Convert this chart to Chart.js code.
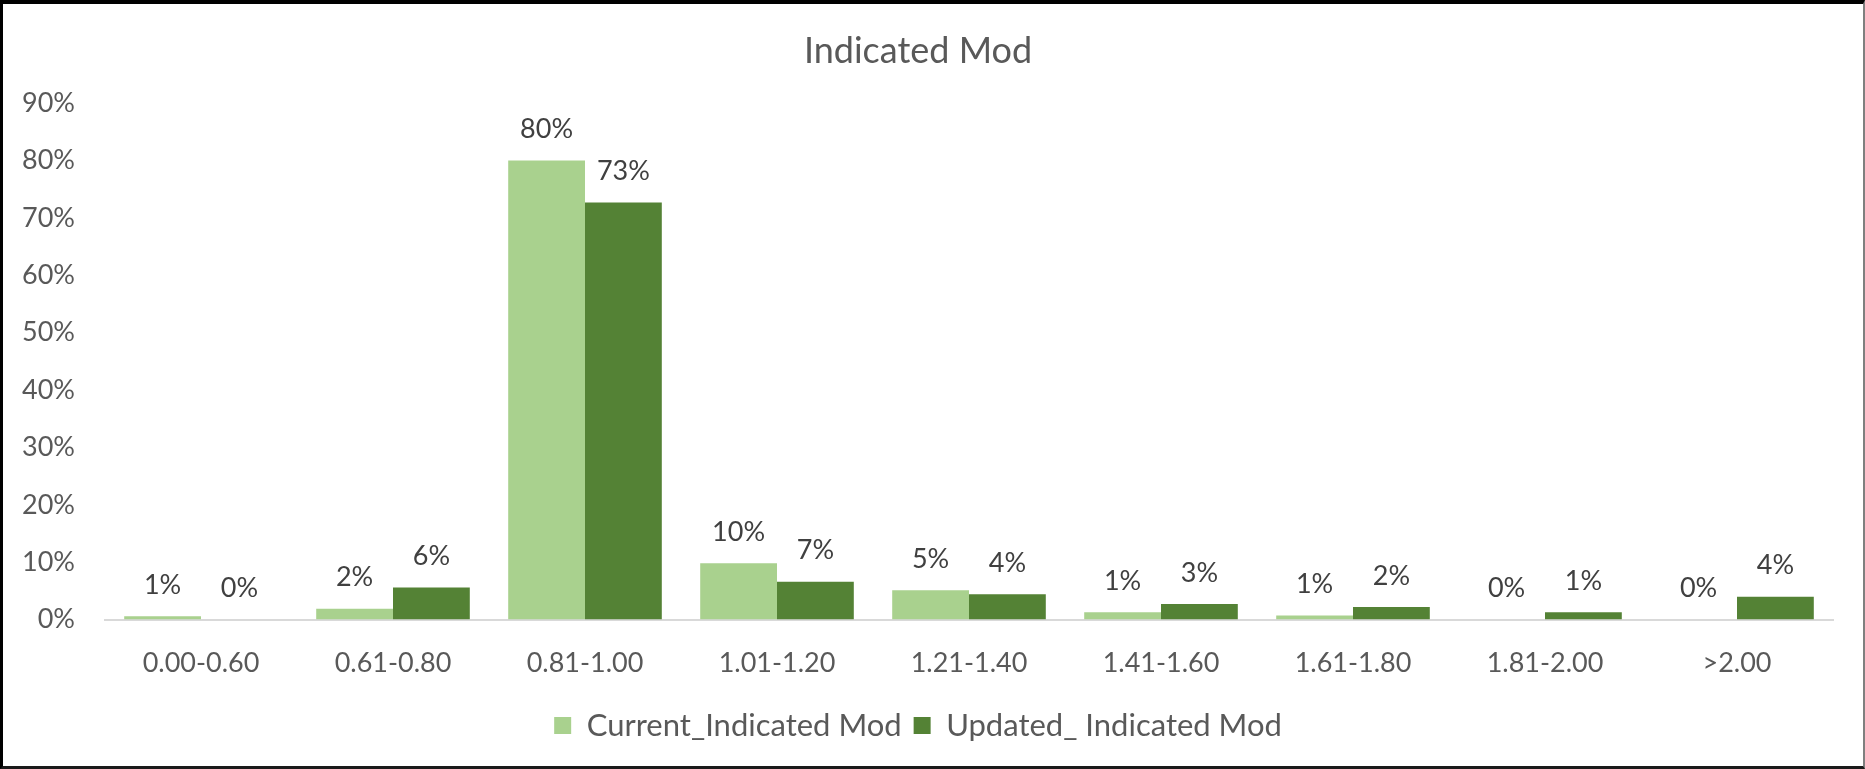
<!DOCTYPE html>
<html>
<head>
<meta charset="utf-8">
<title>Indicated Mod</title>
<script src="https://cdn.jsdelivr.net/npm/chart.js@4.4.1/dist/chart.umd.min.js"></script>
<style>
    html, body { margin: 0; padding: 0; background: #ffffff; }
    .frame {
        box-sizing: border-box;
        width: 1865px;
        height: 769px;
        border-top: 4px solid #000000;
        border-left: 3px solid #000000;
        border-bottom: 3px solid #1a1a1a;
        border-right: 2px solid #7f7f7f;
        background: #ffffff;
    }
    canvas { display: block; }
</style>
</head>
<body>
<div class="frame">
    <canvas id="mod-chart" width="1860" height="762"></canvas>
</div>
<script>
// chart data
const categories = ["0.00-0.60", "0.61-0.80", "0.81-1.00", "1.01-1.20", "1.21-1.40", "1.41-1.60", "1.61-1.80", "1.81-2.00", ">2.00"];
const currentMod = [0.006, 0.019, 0.800, 0.098, 0.051, 0.013, 0.007, 0.000, 0.000];
const updatedMod = [0.000, 0.056, 0.727, 0.066, 0.044, 0.027, 0.022, 0.013, 0.040];
const yTicks = [0, 0.1, 0.2, 0.3, 0.4, 0.5, 0.6, 0.7, 0.8, 0.9];

(function () {
    "use strict";

    if (typeof Chart === "undefined") {
        return;
    }

    const FONT = "Lato, 'Open Sans', sans-serif";
    const GREY = "#595959";

    function pct(v) {
        return Math.round(v * 100) + "%";
    }

    /**
     * Value labels above each bar (Excel "outside end")
     */
    const barLabels = {
        id: "barLabels",
        afterDatasetsDraw: function (chart) {
            const ctx = chart.ctx;
            ctx.save();
            ctx.font = "27px " + FONT;
            ctx.fillStyle = "#404040";
            ctx.textAlign = "center";
            ctx.textBaseline = "middle";
            chart.data.datasets.forEach(function (ds, i) {
                const meta = chart.getDatasetMeta(i);
                meta.data.forEach(function (bar, j) {
                    ctx.fillText(pct(ds.data[j]), bar.x, bar.y - 31);
                });
            });
            ctx.restore();
        },
    };

    const canvas = document.getElementById("mod-chart");

    new Chart(canvas.getContext("2d"), {
        type: "bar",
        data: {
            labels: categories,
            datasets: [
                {
                    label: "Current_Indicated Mod",
                    data: currentMod,
                    backgroundColor: "#a9d18e",
                    categoryPercentage: 0.8,
                    barPercentage: 1.0,
                },
                {
                    label: "Updated_ Indicated Mod",
                    data: updatedMod,
                    backgroundColor: "#548235",
                    categoryPercentage: 0.8,
                    barPercentage: 1.0,
                },
            ],
        },
        options: {
            responsive: false,
            animation: false,
            devicePixelRatio: 1,
            layout: { padding: { left: 0, right: 30, top: 0, bottom: 15 } },
            plugins: {
                tooltip: { enabled: false },
                title: {
                    display: true,
                    text: "Indicated Mod",
                    color: GREY,
                    font: { family: FONT, size: 36, weight: "normal" },
                    padding: { top: 26, bottom: 30 },
                },
                legend: {
                    position: "bottom",
                    labels: {
                        color: GREY,
                        boxWidth: 17,
                        boxHeight: 17,
                        padding: 12,
                        font: { family: FONT, size: 31 },
                    },
                },
            },
            scales: {
                x: {
                    grid: { display: false, drawTicks: false },
                    border: { display: true, color: "#d9d9d9", width: 2 },
                    afterFit: function (scale) {
                        // pull the plot down a little, labels stay 27px under the axis
                        scale.height = scale.height - 8;
                    },
                    ticks: {
                        color: GREY,
                        padding: 27,
                        font: { family: FONT, size: 27 },
                    },
                },
                y: {
                    min: 0,
                    max: 0.9,
                    grid: { display: false, drawTicks: false },
                    border: { display: false },
                    afterFit: function (scale) {
                        scale.width = 102;
                    },
                    afterBuildTicks: function (scale) {
                        scale.ticks = yTicks.map(function (v) {
                            return { value: v };
                        });
                    },
                    ticks: {
                        color: GREY,
                        padding: 30,
                        font: { family: FONT, size: 27 },
                        callback: function (v) {
                            return pct(v);
                        },
                    },
                },
            },
        },
        plugins: [barLabels],
    });
})();
</script>
</body>
</html>
